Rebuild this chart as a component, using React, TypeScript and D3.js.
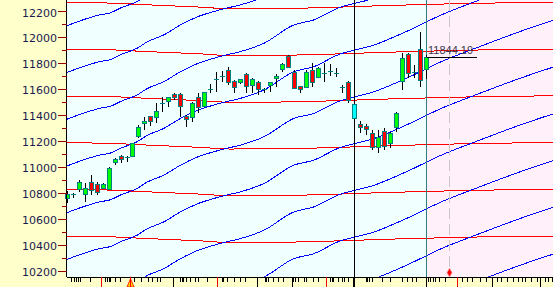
import React, { useEffect } from 'react';
import * as d3 from 'd3';

const W = 553;
const H = 287;

// ---- candle data (slot index = array index) ----
const opens = [10760, 10792, 10827, 10788, 10881, 10865, 10839, 10830, 11035, 11083, 11077, 11086, 11237, 11340, 11391, 11386, 11482, 11509, 11558, 11558, 11391, 11386, 11535, 11471, 11600, 11674, 11700, 11746, 11663, 11651, 11715, 11630, 11651, 11599, 11630, 11682, 11751, 11853, 11733, 11622, 11612, 11746, 11694, 11720, 11740, 11725, 11612, 11656, 11484, 11327, 11314, 11263, 11155, 11278, 11181, 11309, 11663, 11869, 11733, 11905, 11751];
const closes = [10791, 10794, 10885, 10839, 10822, 10808, 10865, 10993, 11060, 11060, 11079, 11181, 11304, 11350, 11355, 11432, 11488, 11535, 11535, 11468, 11366, 11489, 11458, 11574, 11600, 11674, 11700, 11656, 11612, 11674, 11622, 11674, 11597, 11601, 11651, 11699, 11792, 11766, 11605, 11597, 11733, 11651, 11759, 11721, 11741, 11726, 11613, 11515, 11374, 11309, 11289, 11155, 11227, 11160, 11258, 11417, 11836, 11720, 11734, 11669, 11844.19];
const highs = [10814, 10797, 10898, 10878, 10937, 10886, 10878, 11000, 11070, 11090, 11081, 11185, 11322, 11381, 11395, 11489, 11535, 11540, 11570, 11566, 11399, 11502, 11571, 11580, 11636, 11733, 11738, 11766, 11670, 11680, 11720, 11682, 11663, 11605, 11655, 11715, 11802, 11861, 11746, 11625, 11746, 11797, 11771, 11797, 11792, 11759, 11630, 11660, 11490, 11355, 11327, 11284, 11284, 11297, 11271, 11425, 11874, 11874, 11784, 12041, 11860];
const lows = [10721, 10760, 10808, 10731, 10783, 10783, 10826, 10820, 11014, 11027, 11035, 11080, 11220, 11284, 11317, 11335, 11424, 11463, 11515, 11386, 11309, 11348, 11412, 11460, 11571, 11579, 11653, 11630, 11566, 11640, 11566, 11566, 11553, 11566, 11579, 11612, 11733, 11760, 11597, 11566, 11605, 11617, 11682, 11656, 11699, 11694, 11566, 11491, 11370, 11258, 11245, 11130, 11109, 11130, 11143, 11271, 11592, 11682, 11682, 11617, 11674];
const cyanCandles = [48];

// ---- axis ----
const yMajor = [10200, 10400, 10600, 10800, 11000, 11200, 11400, 11600, 11800, 12000, 12200];
const yMinor = [10300, 10500, 10700, 10900, 11100, 11300, 11500, 11700, 11900, 12100];

// x-axis tick marks, in slot units
const xMinorTicks = [0.7, 1.2, 1.6, 1.9, 2.3, 3.9, 6.4, 6.7, 7.0, 7.2, 8.1, 8.9, 11.3, 12.5, 13.6, 14.2, 15.05, 15.6, 19.0, 19.2, 19.5, 20.0, 20.6, 21.5, 22.0, 23.4, 25.9, 26.2, 26.8, 27.9, 29.0, 29.8, 33.2, 33.4, 33.7, 34.5, 35.4, 36.2, 37.9, 38.2, 38.7, 39.6, 40.1, 41.2, 42.1, 44.0, 44.3, 44.6, 45.4, 46.0, 46.3, 47.1, 50.1, 50.3, 50.6, 51.0, 52.7, 54.1, 56.0, 56.9, 57.7, 58.4, 60.5, 60.8, 61.2, 61.6, 62.3, 63.3, 66.1, 66.9, 67.7, 69.1, 70.2, 71.9, 72.7, 73.6, 74.7, 75.5, 76.1, 76.6, 77.7, 78.6, 80.0, 80.5, 81.2];
const xMajorBlack = [17.8, 31.8, 37.6, 47.9, 60, 71.1, 79.1];
const xMajorRed = [5.7, 25.1, 43.4, 65.2];
const triangleSlot = [10.6];

// ---- markers ----
const dividerSlot = 48;
const lastSlot = 60;
const forecastSlot = 64;
const forecastValue = 10185;
const lastLabel = '11844.19';

// ---- red (horizontal) channel ----
const redLevels = [12625, 12265, 11905, 11545, 11185, 10825, 10465, 10105];
const redSlots = [0, 7.3, 12.3, 16.2, 22.3, 27.3, 35.7, 45.7, 50.7, 55.7, 62.4, 69.1, 77.5, 81.5];
const redOffsets = [0, -4, -15, -23, -35, -48, -46, -35, -27, -20, -12, -5, 0, 2];

// ---- blue (rising) channel: one line sampled, others shifted ----
const blueSlots = [0, 2.8, 5.6, 7.3, 9, 11.8, 13.4, 16.2, 19, 21.8, 24.6, 27.4, 29.1, 33, 38, 41.3, 45.3, 51.4, 57, 62.6, 68.1, 72.1, 76.5, 81.5];
const blueValues = [11006, 11053, 11091, 11106, 11143, 11194, 11241, 11295, 11372, 11434, 11476, 11509, 11528, 11592, 11733, 11771, 11861, 11938, 12046, 12169, 12269, 12339, 12413, 12490];
const blueShifts = [-7, -6, -5, -4, -3, -2, -1, 0, 1, 2, 3, 4];
const channelStep = 360;

export default function App() {
  useEffect(() => {
    document.body.style.margin = '0';
  }, []);

  const left = 66.7;
  const bottom = 276.7;
  const x = d3.scaleLinear().domain([0, 60]).range([66.7, 425.5]);
  const y = d3.scaleLinear().domain([10200, 12200]).range([270.7, 11]);

  const line = d3
    .line<[number, number]>()
    .x((d) => d[0])
    .y((d) => d[1])
    .curve(d3.curveMonotoneX);

  const redPaths = redLevels.map((lv) =>
    line(redSlots.map((s, i) => [x(s), y(lv + redOffsets[i])] as [number, number]))
  );
  const bluePaths = blueShifts.map((k) =>
    line(blueSlots.map((s, i) => [x(s), y(blueValues[i] + k * channelStep)] as [number, number]))
  );

  const lastX = Math.round(x(lastSlot)) + 0.5;
  const divX = Math.round(x(dividerSlot)) + 0.5;
  const fX = Math.round(x(forecastSlot)) + 0.5;
  const lastY = Math.round(y(closes[closes.length - 1])) + 0.5;

  return (
    <svg
      width={W}
      height={H}
      style={{ position: 'absolute', left: 0, top: 0, display: 'block' }}
      fontFamily="DejaVu Sans, sans-serif"
    >
      <defs>
        <clipPath id="plot">
          <rect x={left} y={0} width={W - left} height={bottom} />
        </clipPath>
      </defs>
      {/* backgrounds */}
      <rect x={0} y={0} width={W} height={H} fill="#FFFFCC" />
      <rect x={left} y={0} width={W - left} height={bottom} fill="#F0FFFF" />
      <rect x={lastX} y={0} width={W - lastX} height={bottom} fill="#FFF0FA" />

      <g clipPath="url(#plot)" fill="none" shapeRendering="crispEdges">
        {redPaths.map((d, i) => (
          <path key={'r' + i} d={d || ''} stroke="#FF0000" strokeWidth={1} />
        ))}
        {bluePaths.map((d, i) => (
          <path key={'b' + i} d={d || ''} stroke="#0000FF" strokeWidth={1} />
        ))}
      </g>

      {/* forecast dashed line */}
      <line x1={fX} x2={fX} y1={0} y2={y(forecastValue)} stroke="#C8C8C8" strokeWidth={1} strokeDasharray="11,5" />

      {/* vertical markers */}
      <line x1={divX} x2={divX} y1={0} y2={H} stroke="#000" strokeWidth={1} shapeRendering="crispEdges" />
      <line x1={lastX} x2={lastX} y1={0} y2={bottom} stroke="#2E8080" strokeWidth={1} shapeRendering="crispEdges" />

      {/* candles */}
      <g shapeRendering="crispEdges">
        {opens.map((o, i) => {
          const c = closes[i];
          const cx = Math.round(x(i)) + 0.5;
          const yo = y(o);
          const yc = y(c);
          const top = Math.round(Math.min(yo, yc)) + 0.5;
          const bot = Math.round(Math.max(yo, yc)) + 0.5;
          const h = bot - top;
          const isCyan = cyanCandles.includes(i);
          const fill = isCyan ? '#00FFFF' : c > o ? '#00FF00' : '#FF0000';
          return (
            <g key={i}>
              <line x1={cx} x2={cx} y1={y(highs[i])} y2={y(lows[i])} stroke="#000" strokeWidth={1} />
              {h < 1.5 ? (
                <line x1={cx - 2.5} x2={cx + 2.5} y1={top} y2={top} stroke="#008080" strokeWidth={1} />
              ) : (
                <rect x={cx - 2} y={top} width={4} height={h} fill={fill} stroke="#008080" strokeWidth={1} />
              )}
            </g>
          );
        })}
      </g>

      {/* last price marker */}
      <line x1={lastX} x2={lastX + 50} y1={lastY} y2={lastY} stroke="#000" strokeWidth={1} shapeRendering="crispEdges" />
      <text x={lastX + 1.5} y={lastY - 3.5} fontSize={11} fontFamily="Liberation Sans, Arial, sans-serif" fill="#3A3A4A">
        {lastLabel}
      </text>

      {/* forecast diamond */}
      <path
        d={d3.symbol().type(d3.symbolDiamond).size(22)() || ''}
        transform={`translate(${fX},${y(forecastValue)})`}
        fill="#FF0000"
        stroke="#FF9090"
        strokeWidth={0.8}
      />

      {/* axes */}
      <g shapeRendering="crispEdges">
        <line x1={left} x2={left} y1={0} y2={bottom} stroke="#000" />
        <line x1={left} x2={W} y1={Math.round(bottom) + 0.5} y2={Math.round(bottom) + 0.5} stroke="#000" />
        {yMajor.map((v) => (
          <line key={'ym' + v} x1={58} x2={left} y1={Math.round(y(v)) + 0.5} y2={Math.round(y(v)) + 0.5} stroke="#990000" />
        ))}
        {yMinor.map((v) => (
          <line key={'yn' + v} x1={62} x2={left} y1={Math.round(y(v)) + 0.5} y2={Math.round(y(v)) + 0.5} stroke="#990000" />
        ))}
        {xMinorTicks.map((s, i) => (
          <line key={'xm' + i} x1={Math.round(x(s)) + 0.5} x2={Math.round(x(s)) + 0.5} y1={bottom} y2={282} stroke="#000" />
        ))}
        {xMajorBlack.map((s, i) => (
          <line key={'xb' + i} x1={Math.round(x(s)) + 0.5} x2={Math.round(x(s)) + 0.5} y1={bottom} y2={H} stroke="#000" />
        ))}
        {xMajorRed.map((s, i) => (
          <line key={'xr' + i} x1={Math.round(x(s)) + 0.5} x2={Math.round(x(s)) + 0.5} y1={bottom} y2={H} stroke="#FF0000" />
        ))}
      </g>
      {triangleSlot.map((s, i) => {
        const tx = Math.round(x(s)) + 0.5;
        return (
          <g key={'t' + i}>
            <path d={`M${tx - 3.5},${H} L${tx},${bottom + 2} L${tx + 3.5},${H} Z`} fill="#FFD200" stroke="#FF3000" strokeWidth={1} />
            <line x1={tx} x2={tx} y1={bottom} y2={H} stroke="#FF0000" />
          </g>
        );
      })}

      {yMajor.map((v) => (
        <text key={'yl' + v} x={57} y={y(v) + 5.5} textAnchor="end" fontSize={11} fill="#1A1A50">
          {v}
        </text>
      ))}
    </svg>
  );
}
